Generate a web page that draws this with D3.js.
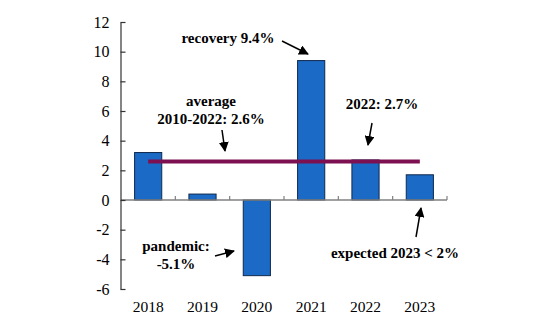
<!DOCTYPE html>
<html>
<head>
<meta charset="utf-8">
<script src="https://cdn.jsdelivr.net/npm/d3@7"></script>
<style>
  body { margin: 0; background: #fff; }
  svg { display: block; }
</style>
</head>
<body>
<svg id="chart" width="539" height="321"></svg>
<script>
const years = ["2018", "2019", "2020", "2021", "2022", "2023"];
const growth = [3.2, 0.4, -5.1, 9.4, 2.7, 1.7];
const average = 2.6;
const yTicks = [-6, -4, -2, 0, 2, 4, 6, 8, 10, 12];

const FONT = '"Liberation Serif"';
const svg = d3.select("#chart");

const x = d3.scaleBand().domain(years).range([121, 447]).paddingInner(0.5).paddingOuter(0.25);
const y = d3.scaleLinear().domain([-6, 12]).range([289, 22]);

// bars
svg.append("g")
  .selectAll("rect")
  .data(growth)
  .join("rect")
  .attr("x", (d, i) => x(years[i]))
  .attr("y", d => y(Math.max(0, d)))
  .attr("width", x.bandwidth())
  .attr("height", d => Math.abs(y(d) - y(0)))
  .attr("fill", "#1b6ac5")
  .attr("stroke", "#0f2a4d")
  .attr("stroke-width", 1);

// zero axis, band ticks pointing up
const gx = svg.append("g");
gx.append("line")
  .attr("x1", x.range()[0]).attr("x2", x.range()[1])
  .attr("y1", y(0)).attr("y2", y(0))
  .attr("stroke", "#808080").attr("stroke-width", 1.5);
gx.selectAll("line.tk")
  .data(years.slice(1).map(d => x(d) - x.step() * x.paddingInner() / 2).concat([x.range()[1]]))
  .join("line")
  .attr("class", "tk")
  .attr("x1", d => d).attr("x2", d => d)
  .attr("y1", y(0)).attr("y2", y(0) - 4)
  .attr("stroke", "#808080").attr("stroke-width", 1.2);

// year labels at bottom
svg.append("g")
  .selectAll("text")
  .data(years)
  .join("text")
  .attr("x", d => x(d) + x.bandwidth() / 2)
  .attr("y", 312)
  .attr("text-anchor", "middle")
  .style("font-family", FONT)
  .style("font-size", "15.5px")
  .style("fill", "#000")
  .text(d => d);

// y axis
const gy = svg.append("g")
  .attr("transform", "translate(120.5,0)")
  .call(d3.axisLeft(y).tickValues(yTicks).tickFormat(d => String(d))
    .tickSizeInner(-5).tickSizeOuter(0).tickPadding(11));
gy.attr("font-family", null).attr("font-size", null);
gy.select(".domain").attr("stroke", "#333").attr("stroke-width", 1.2);
gy.selectAll(".tick line").attr("stroke", "#333").attr("stroke-width", 1.2);
gy.selectAll(".tick text")
  .style("font-family", FONT)
  .style("font-size", "16px")
  .style("fill", "#000");

// average line
svg.append("line")
  .attr("x1", x(years[0]) + x.bandwidth() / 2)
  .attr("x2", x(years[years.length - 1]) + x.bandwidth() / 2)
  .attr("y1", y(average)).attr("y2", y(average))
  .attr("stroke", "#7d1050")
  .attr("stroke-width", 4);

// arrowhead
svg.append("defs").append("marker")
  .attr("id", "arrow")
  .attr("viewBox", "0 0 10 10")
  .attr("refX", 9).attr("refY", 5)
  .attr("markerWidth", 10).attr("markerHeight", 10)
  .attr("markerUnits", "userSpaceOnUse")
  .attr("orient", "auto")
  .append("path")
  .attr("d", "M0,0 L10,5 L0,10 Z")
  .attr("fill", "#000");

// annotations
const notes = [
  { lines: ["recovery 9.4%"], x: 228, y: 43 },
  { lines: ["average", "2010-2022: 2.6%"], x: 211, y: 106 },
  { lines: ["2022: 2.7%"], x: 382, y: 109 },
  { lines: ["pandemic:", "-5.1%"], x: 176, y: 251 },
  { lines: ["expected 2023 < 2%"], x: 395, y: 258 }
];
const arrows = [
  { x1: 282, y1: 41, x2: 308, y2: 54 },
  { x1: 222, y1: 130, x2: 225, y2: 151 },
  { x1: 372, y1: 123, x2: 368, y2: 145 },
  { x1: 215, y1: 256, x2: 234, y2: 251 },
  { x1: 416, y1: 237, x2: 421, y2: 208 }
];

const gn = svg.append("g");
notes.forEach(n => {
  const t = gn.append("text")
    .attr("text-anchor", "middle")
    .attr("x", n.x).attr("y", n.y)
    .style("font-family", FONT)
    .style("font-weight", "bold")
    .style("font-size", "15px")
    .style("fill", "#000");
  n.lines.forEach((l, i) => {
    t.append("tspan").attr("x", n.x).attr("dy", i === 0 ? 0 : 18).text(l);
  });
});

gn.selectAll("line")
  .data(arrows)
  .join("line")
  .attr("x1", d => d.x1).attr("y1", d => d.y1)
  .attr("x2", d => d.x2).attr("y2", d => d.y2)
  .attr("stroke", "#000")
  .attr("stroke-width", 1.5)
  .attr("marker-end", "url(#arrow)");
</script>
</body>
</html>
